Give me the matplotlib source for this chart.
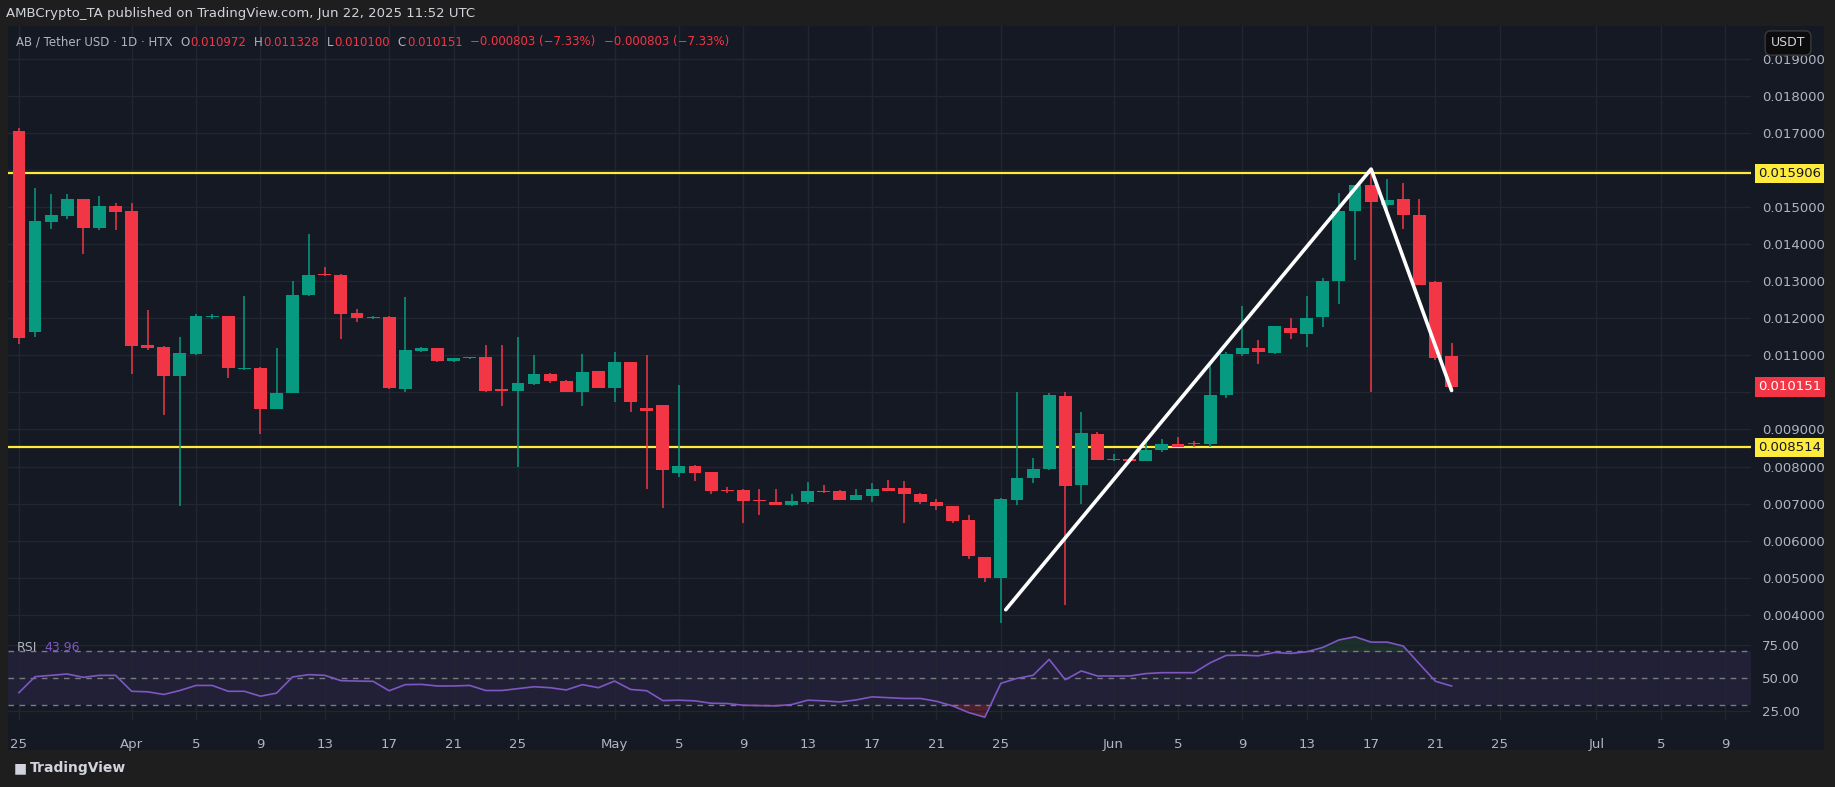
import numpy as np
import pandas as pd
import matplotlib
matplotlib.use("Agg")
import matplotlib.pyplot as plt
from matplotlib.patches import Rectangle

# ── data: daily OHLC, AB/USDT, Mar 25 – Jun 22 2025 ─────────────────────────
start = pd.Timestamp("2025-03-25")
opens = [0.01705, 0.01163, 0.01459, 0.01475, 0.01521, 0.01442, 0.01502, 0.01488, 0.01127, 0.01122,
         0.01043, 0.01103, 0.01203, 0.01206, 0.01063, 0.01066, 0.00956, 0.00998, 0.01263, 0.01318,
         0.01316, 0.01214, 0.01200, 0.01202, 0.01010, 0.01111, 0.01119, 0.01084, 0.01092, 0.01095,
         0.01007, 0.01003, 0.01022, 0.01049, 0.01032, 0.01000, 0.01057, 0.01013, 0.01081, 0.00959,
         0.00965, 0.00783, 0.00802, 0.00786, 0.00736, 0.00736, 0.00709, 0.00704, 0.00696, 0.00704,
         0.00734, 0.00734, 0.00710, 0.00720, 0.00742, 0.00742, 0.00726, 0.00704, 0.00693, 0.00655,
         0.00555, 0.00500, 0.00710, 0.00769, 0.00793, 0.00990, 0.00750, 0.00889, 0.00817, 0.00821,
         0.00816, 0.00845, 0.00862, 0.00862, 0.00860, 0.00992, 0.01103, 0.01119, 0.01106, 0.01174,
         0.01157, 0.01203, 0.01300, 0.01488, 0.01559, 0.01505, 0.01521, 0.01478, 0.01298, 0.01097]
highs = [0.01714, 0.01551, 0.01535, 0.01535, 0.01521, 0.01529, 0.01510, 0.01510, 0.01222, 0.01125,
         0.01149, 0.01212, 0.01212, 0.01206, 0.01260, 0.01068, 0.01119, 0.01300, 0.01426, 0.01339,
         0.01318, 0.01225, 0.01206, 0.01205, 0.01258, 0.01122, 0.01120, 0.01093, 0.01095, 0.01127,
         0.01127, 0.01149, 0.01100, 0.01052, 0.01033, 0.01103, 0.01057, 0.01108, 0.01082, 0.01100,
         0.00965, 0.01019, 0.00805, 0.00786, 0.00746, 0.00740, 0.00739, 0.00739, 0.00726, 0.00758,
         0.00750, 0.00738, 0.00739, 0.00756, 0.00764, 0.00760, 0.00729, 0.00712, 0.00693, 0.00670,
         0.00555, 0.00715, 0.01000, 0.00824, 0.00997, 0.01000, 0.00948, 0.00892, 0.00834, 0.00823,
         0.00870, 0.00875, 0.00880, 0.00870, 0.01081, 0.01110, 0.01233, 0.01141, 0.01180, 0.01201,
         0.01260, 0.01307, 0.01537, 0.01560, 0.01602, 0.01575, 0.01564, 0.01520, 0.01300, 0.01133]
lows = [0.01130, 0.01149, 0.01440, 0.01467, 0.01374, 0.01437, 0.01437, 0.01049, 0.01114, 0.00940,
        0.00693, 0.01100, 0.01199, 0.01038, 0.01060, 0.00889, 0.00955, 0.00997, 0.01260, 0.01314,
        0.01144, 0.01190, 0.01199, 0.01010, 0.01000, 0.01110, 0.01083, 0.01082, 0.01090, 0.01000,
        0.00962, 0.00799, 0.01020, 0.01024, 0.01000, 0.00962, 0.01013, 0.00975, 0.00948, 0.00739,
        0.00688, 0.00772, 0.00761, 0.00726, 0.00730, 0.00647, 0.00670, 0.00696, 0.00695, 0.00700,
        0.00730, 0.00710, 0.00710, 0.00704, 0.00733, 0.00647, 0.00699, 0.00682, 0.00647, 0.00550,
        0.00490, 0.00378, 0.00696, 0.00756, 0.00790, 0.00427, 0.00699, 0.00817, 0.00816, 0.00815,
        0.00815, 0.00840, 0.00852, 0.00853, 0.00853, 0.00986, 0.01098, 0.01076, 0.01103, 0.01144,
        0.01122, 0.01176, 0.01239, 0.01358, 0.01000, 0.01478, 0.01440, 0.01290, 0.01087, 0.01010]
closes = [0.01146, 0.01461, 0.01478, 0.01521, 0.01442, 0.01502, 0.01486, 0.01125, 0.01119, 0.01043,
          0.01106, 0.01206, 0.01205, 0.01065, 0.01066, 0.00954, 0.00997, 0.01263, 0.01317, 0.01316,
          0.01212, 0.01201, 0.01202, 0.01011, 0.01114, 0.01119, 0.01084, 0.01092, 0.01093, 0.01005,
          0.01005, 0.01024, 0.01049, 0.01030, 0.01000, 0.01054, 0.01013, 0.01081, 0.00973, 0.00951,
          0.00791, 0.00802, 0.00783, 0.00734, 0.00734, 0.00707, 0.00707, 0.00696, 0.00707, 0.00734,
          0.00732, 0.00710, 0.00723, 0.00739, 0.00734, 0.00726, 0.00704, 0.00693, 0.00653, 0.00558,
          0.00500, 0.00712, 0.00769, 0.00794, 0.00992, 0.00748, 0.00891, 0.00818, 0.00819, 0.00816,
          0.00845, 0.00862, 0.00853, 0.00860, 0.00992, 0.01103, 0.01119, 0.01108, 0.01179, 0.01160,
          0.01201, 0.01301, 0.01488, 0.01559, 0.01513, 0.01518, 0.01478, 0.01290, 0.01092, 0.01015]
rsi = [39.0, 51.0, 52.0, 53.0, 50.5, 52.0, 52.0, 40.0, 39.6, 37.6,
       40.6, 44.4, 44.4, 40.0, 40.0, 36.3, 38.6, 50.8, 52.5, 52.0,
       48.0, 47.7, 47.5, 40.4, 45.0, 45.2, 44.0, 44.0, 44.4, 40.6,
       40.6, 42.0, 43.4, 42.7, 41.0, 45.0, 42.7, 47.7, 41.4, 40.4,
       33.0, 33.3, 32.8, 31.0, 30.8, 29.5, 29.2, 29.0, 30.0, 33.3,
       32.8, 32.0, 33.5, 35.8, 35.2, 34.6, 34.6, 32.5, 29.0, 24.0,
       20.5, 46.0, 49.7, 52.0, 64.0, 48.7, 55.3, 51.5, 51.5, 51.5,
       53.3, 54.0, 54.0, 54.0, 61.4, 67.0, 67.2, 66.7, 69.2, 68.5,
       69.7, 73.0, 78.6, 81.0, 77.0, 77.0, 74.0, 60.6, 47.5, 43.96]

support = 0.008514
resistance = 0.015906
last_close = 0.010151
# white swing drawing: (day index, price)
swing_days = [61.3, 84.0, 89.0]
swing_prices = [0.00414, 0.01602, 0.01005]

price_ticks = [0.004, 0.005, 0.006, 0.007, 0.008, 0.009, 0.010, 0.011,
               0.012, 0.013, 0.014, 0.015, 0.016, 0.017, 0.018, 0.019]
hidden_ticks = [0.010, 0.016]   # covered by price tags in the original
rsi_ticks = [25, 50, 75]

# ── style ───────────────────────────────────────────────────────────────────
BG = "#151924"
OUTER = "#1e1e1e"
GRID = "#222631"
UP = "#089981"
DOWN = "#f23645"
YEL = "#ffeb3b"
TXT = "#b2b5be"
PURPLE = "#7e57c2"

W, H = 1835, 787
fig = plt.figure(figsize=(W / 100, H / 100), dpi=100, facecolor=OUTER)

def px_axes(x0, y0, x1, y1):
    return fig.add_axes([x0 / W, 1 - y1 / H, (x1 - x0) / W, (y1 - y0) / H])

# chart frame background
frame = px_axes(8, 26, 1824, 750)
frame.set_facecolor(BG)
frame.set_xticks([]); frame.set_yticks([])
for s in frame.spines.values():
    s.set_visible(False)

ax = px_axes(8, 26, 1751, 632)
rax = px_axes(8, 632, 1751, 720)

days = np.arange(len(closes))
dates = pd.date_range(start, periods=110, freq="D")
xmin, xmax = -0.68, 107.6

# date ticks every 4 days, month starts replace nearby ticks
tick_pos, tick_lab = [], []
for i, d in enumerate(dates):
    if d.day == 1:
        tick_pos.append(i); tick_lab.append(d.strftime("%b"))
    elif d.day in (5, 9, 13, 17, 21, 25):
        tick_pos.append(i); tick_lab.append(str(d.day))

for a in (ax, rax):
    a.set_facecolor("none")
    a.set_xlim(xmin, xmax)
    for s in a.spines.values():
        s.set_visible(False)
    a.set_xticks(tick_pos)
    a.grid(True, color=GRID, linewidth=1.0)
    a.yaxis.tick_right()
    a.tick_params(colors=TXT, length=0, labelsize=9.5, pad=30)
ax.set_xticklabels([])
rax.set_xticklabels(tick_lab)
rax.tick_params(axis="x", pad=13)

# ── candles ─────────────────────────────────────────────────────────────────
ax.set_ylim(0.00354, 0.019877)
ax.set_yticks(price_ticks)
ax.set_yticklabels(["" if any(abs(t - h) < 1e-9 for h in hidden_ticks) else f"{t:.6f}"
                    for t in price_ticks])
for lab in ax.get_yticklabels():
    lab.set_horizontalalignment("left")
ax.tick_params(axis="y", pad=8)

bw = 0.8
for i in days:
    o, h, l, c = opens[i], highs[i], lows[i], closes[i]
    col = UP if c >= o else DOWN
    ax.vlines(i, l, h, color=col, linewidth=1.1, zorder=3)
    body = max(abs(c - o), 0.00003)
    ax.add_patch(Rectangle((i - bw / 2, min(o, c)), bw, body, facecolor=col,
                           edgecolor="none", zorder=4))

ax.axhline(resistance, color=YEL, linewidth=1.6, zorder=2)
ax.axhline(support, color=YEL, linewidth=1.6, zorder=2)
ax.plot(swing_days, swing_prices, color="white", linewidth=2.6, zorder=5,
        solid_capstyle="round")

# price tags on the axis
def tag(y, text, fc, tc):
    ax.text(1.004, y, text, transform=ax.get_yaxis_transform(), fontsize=9.5,
            color=tc, va="center", ha="left", clip_on=False, zorder=10,
            bbox=dict(boxstyle="square,pad=0.25", facecolor=fc, edgecolor="none"))

tag(resistance, f"{resistance:.6f}", YEL, "#131722")
tag(support, f"{support:.6f}", YEL, "#131722")
tag(last_close, f"{last_close:.6f}", DOWN, "white")

# ── RSI ─────────────────────────────────────────────────────────────────────
rax.set_ylim(18.4, 84.6)
rax.set_yticks(rsi_ticks)
rax.set_yticklabels([f"{t:.2f}" for t in rsi_ticks])
for lab in rax.get_yticklabels():
    lab.set_horizontalalignment("left")
rax.tick_params(axis="y", pad=8)
rax.axhspan(30, 70, color=PURPLE, alpha=0.12, linewidth=0)
for lvl in (70, 50, 30):
    rax.axhline(lvl, color="#787b86", linewidth=1.0, linestyle=(0, (4, 4)))
rsi_arr = np.array(rsi)
rax.fill_between(days, 70, rsi_arr, where=rsi_arr > 70, interpolate=True,
                 color="#4caf50", alpha=0.15, linewidth=0)
rax.fill_between(days, 30, rsi_arr, where=rsi_arr < 30, interpolate=True,
                 color=DOWN, alpha=0.25, linewidth=0)
rax.plot(days, rsi, color=PURPLE, linewidth=1.2)
t_rsi = rax.text(0.005, 0.82, "RSI", transform=rax.transAxes, color=TXT, fontsize=9, va="center")
rax.annotate(f"{rsi[-1]:.2f}", xy=(1, 0.5), xycoords=t_rsi, xytext=(5, 0),
             textcoords="offset points", color=PURPLE, fontsize=9, va="center")

# ── header / footer text ───────────────────────────────────────────────────
fig.text(6 / W, 1 - 14 / H, "AMBCrypto_TA published on TradingView.com, Jun 22, 2025 11:52 UTC",
         color="#d1d4dc", fontsize=9.5, va="center")
# legend row, each piece chained after the previous one (gap in points)
legend_parts = [("AB / Tether USD · 1D · HTX", TXT, 0),
                ("O", TXT, 5), ("0.010972", DOWN, 0),
                ("H", TXT, 5), ("0.011328", DOWN, 0),
                ("L", TXT, 5), ("0.010100", DOWN, 0),
                ("C", TXT, 5), ("0.010151", DOWN, 0),
                ("\u22120.000803 (\u22127.33%)", DOWN, 5),
                ("\u22120.000803 (\u22127.33%)", DOWN, 5)]
prev = fig.text(16 / W, 1 - 42 / H, legend_parts[0][0], color=legend_parts[0][1],
                fontsize=8.5, va="center")
for s, c, gap in legend_parts[1:]:
    prev = fig.text(0, 0, "")  if False else \
        ax.annotate(s, xy=(1, 0.5), xycoords=prev, xytext=(gap + 0.6, 0),
                    textcoords="offset points", color=c, fontsize=8.5, va="center",
                    annotation_clip=False)

fig.text(1788 / W, 1 - 43 / H, "USDT", color="#d1d4dc", fontsize=9, va="center", ha="center",
         bbox=dict(boxstyle="round,pad=0.45", facecolor="#0c0c0c", edgecolor="#3a3a3a"))
fig.text(14 / W, 1 - 768 / H, "\u25a0", color="#d1d4dc", fontsize=10, va="center")
fig.text(30 / W, 1 - 768 / H, "TradingView", color="#d1d4dc", fontsize=10,
         fontweight="bold", va="center")

fig.savefig("out.png", dpi=100, facecolor=OUTER)
